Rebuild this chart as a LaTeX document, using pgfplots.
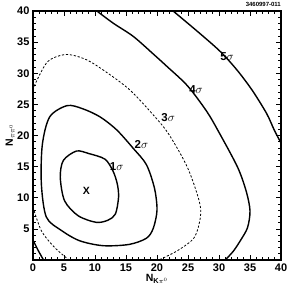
\documentclass[border=0pt]{standalone}
\usepackage{fontspec}
\setmainfont{Liberation Sans}
\usepackage{pgfplots}
\pgfplotsset{compat=1.18}
\begin{document}
\begin{tikzpicture}
\useasboundingbox (-33pt,-31pt) rectangle (256pt,260pt);
\begin{axis}[
 at={(0,0)}, anchor=south west,
 scale only axis, width=248pt, height=249pt,
 xmin=0,xmax=40,ymin=0,ymax=40,
 xtick={0,5,...,40}, ytick={5,10,...,40},
 minor xtick={1,...,39}, minor ytick={1,...,39},
 tick align=inside,
 major tick length=5pt, minor tick length=3pt,
 axis line style={line width=1.2pt},
 every tick/.style={line width=0.7pt, black},
 ticklabel style={font=\fontsize{11}{11}\selectfont\bfseries},
 /pgf/number format/assume math mode=true,
 xlabel={\textbf{N}$_{\mathrm{\bf K}\pi^0}$},
 ylabel={\textbf{N}$_{\pi\pi^0}$},
 label style={font=\fontsize{10.5}{10.5}\selectfont},
 xlabel style={at={(axis description cs:0.5,-0.075)}, anchor=center},
 ylabel style={at={(axis description cs:-0.092,0.5)}, anchor=center},
 clip=false,
]
% 1 sigma
\addplot[black, line width=1.4pt, smooth cycle] coordinates {
(7.0,17.5) (9.0,17.1) (11.6,16.2) (12.9,14.3) (13.6,12.2) (13.8,10.1) (13.3,7.4) (12.1,6.4) (10.2,6.05) (7.3,7.1) (5.1,9.5) (4.4,13.3) (4.9,16.0)
};
% 2 sigma
\addplot[black, line width=1.4pt, smooth cycle] coordinates {
(5.5,24.8) (8,24.3) (10.8,23.0) (13.5,20.9) (16.2,17.9) (18.3,15.3) (19.6,11.5) (20.0,8.0) (19.4,5.1) (18.3,3.5) (15.5,2.5) (11.3,2.3) (7.5,3.1) (4.5,4.8) (2.15,6.9) (1.35,12.2) (1.5,18.5) (2.7,23.0)
};
% 3 sigma
\addplot[black, line width=0.8pt, dash pattern=on 2.2pt off 1.8pt, smooth] coordinates {
(0,27.3) (0.5,28.6) (2.4,31.9) (5.1,33.0) (7.5,32.6) (10,31.4) (15.3,27.6) (19.4,23.3) (21.9,20.2) (24.9,14.9) (26.8,9.5) (27.0,6.9) (26.0,3.6) (23.3,1.5) (20.3,0)
};
\addplot[black, line width=0.8pt, dash pattern=on 2.2pt off 1.8pt, smooth] coordinates {
(0,8.5) (1.35,4.7) (3.5,2.0) (5.8,0)
};
% 4 sigma
\addplot[black, line width=1.4pt, smooth] coordinates {
(10.3,40) (13,38.0) (16.2,35.9) (19.5,33.0) (21.6,31.1) (24.9,28.0) (28,23.9) (30.0,20.5) (33.0,14.9) (34.4,11) (35.0,7.9) (34.6,5.2) (33.5,3.2) (32.3,1.4) (31.0,0)
};
\addplot[black, line width=1.4pt, smooth] coordinates {
(0,3.2) (0.8,1.6) (1.7,0)
};
% 5 sigma
\addplot[black, line width=1.4pt, smooth] coordinates {
(22.6,40) (26.9,36.4) (30.3,33.4) (33,30.4) (35.4,27.2) (37.7,23.5) (38.9,20.9) (40,18.8)
};
\node[font=\fontsize{11.5}{11.5}\selectfont] at (axis cs:13.5,15.0) {\textbf{1}$\sigma$};
\node[font=\fontsize{11.5}{11.5}\selectfont] at (axis cs:17.5,18.6) {\textbf{2}$\sigma$};
\node[font=\fontsize{11.5}{11.5}\selectfont] at (axis cs:21.8,22.9) {\textbf{3}$\sigma$};
\node[font=\fontsize{11.5}{11.5}\selectfont] at (axis cs:26.3,27.4) {\textbf{4}$\sigma$};
\node[font=\fontsize{11.5}{11.5}\selectfont] at (axis cs:31.3,32.7) {\textbf{5}$\sigma$};
\node[font=\fontsize{10.5}{10.5}\selectfont\bfseries] at (axis cs:8.6,11.1) {X};
\node[font=\fontsize{6}{6}\selectfont\bfseries, anchor=base east, inner sep=0pt] at (axis cs:40,40) [yshift=4.5pt] {3460997-011};
\end{axis}
\end{tikzpicture}
\end{document}
